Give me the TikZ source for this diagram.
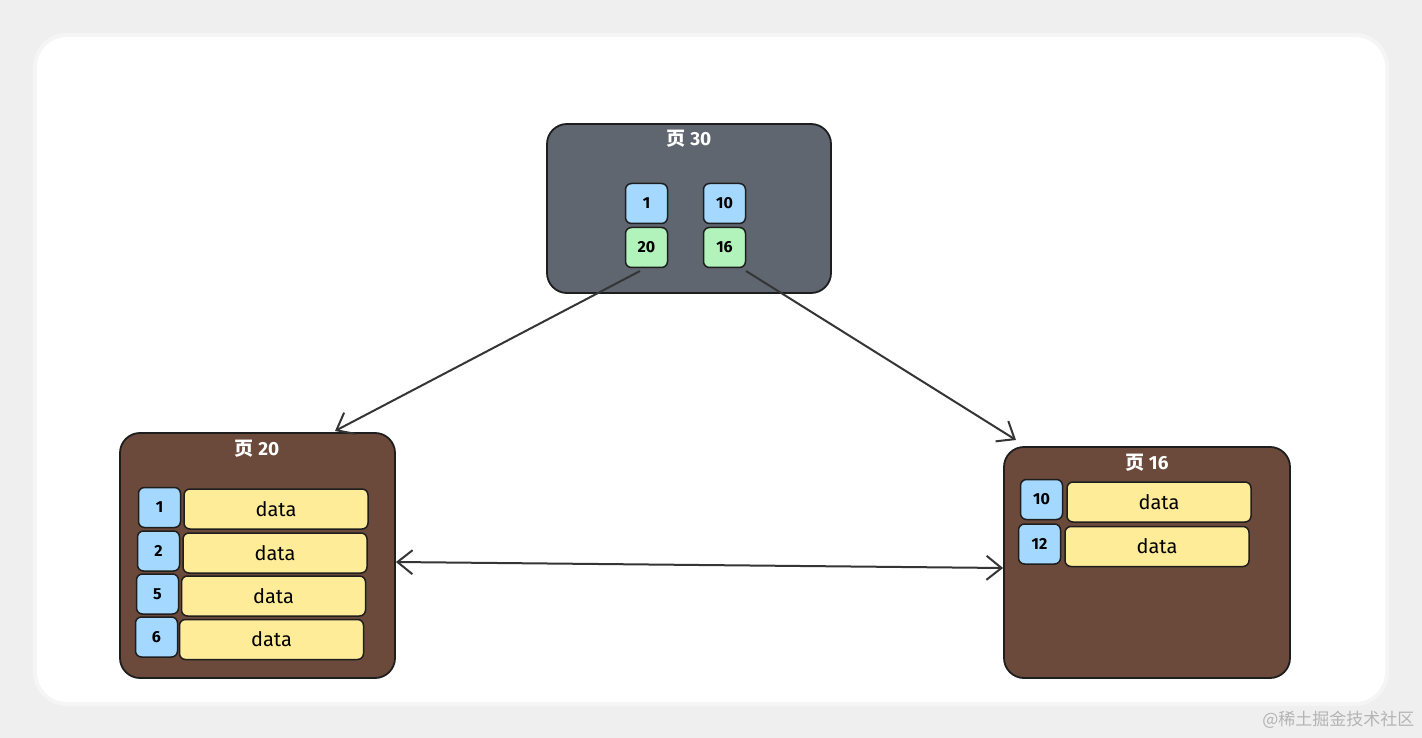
\documentclass[tikz,border=0pt]{standalone}
\usepackage{fontspec}
\setmainfont{Fira Sans}
\newfontfamily\cjk{Noto Sans CJK SC}
\usetikzlibrary{arrows.meta}
\definecolor{pagegray}{HTML}{5F6670}
\definecolor{pagebrown}{HTML}{6B4A3B}
\definecolor{keyblue}{HTML}{A5D8FF}
\definecolor{keygreen}{HTML}{B2F2BB}
\definecolor{datayellow}{HTML}{FFEC99}
\definecolor{ink}{HTML}{1E1E1E}
\definecolor{framebg}{HTML}{EFEFEF}
\definecolor{wm}{HTML}{B4B4B4}
\tikzset{
  px/.style={x=1pt,y=-1pt},
  pagebox/.style={draw=ink,line width=1.8pt,rounded corners=20pt},
  keybox/.style={draw=ink,line width=1.5pt,fill=keyblue,rounded corners=6pt,minimum width=42pt,minimum height=40pt,inner sep=0pt,font=\fontsize{16}{18}\selectfont\bfseries},
  gkeybox/.style={keybox,fill=keygreen},
  databox/.style={draw=ink,line width=1.5pt,fill=datayellow,rounded corners=6pt,minimum width=184pt,minimum height=40pt,inner sep=0pt,font=\fontsize{20}{22}\selectfont},
  titletext/.style={text=white,font=\fontsize{19}{22}\selectfont\bfseries},
  conn/.style={draw=ink!90,line width=2pt},
  barb/.style={Straight Barb[length=15pt,width=24pt,line width=2pt]},
  tip/.style={-{Straight Barb[length=15pt,width=24pt,line width=2pt]}},
}
\begin{document}
\begin{tikzpicture}[px]
\useasboundingbox (0,0) rectangle (1422,738);
% background frame
\fill[framebg] (0,0) rectangle (1422,738);
\fill[white!96!black,rounded corners=34pt] (33,33) rectangle (1389,706);
\fill[white,rounded corners=30pt] (37,37) rectangle (1385,702);
\node[text=wm,anchor=east,font=\cjk\fontsize{17}{19}\selectfont] (wmark) at (1418,720) {@稀土掘金技术社区};

% page 30
\node[pagebox,fill=pagegray,minimum width=284pt,minimum height=169pt] (p30) at (689,208.5) {};
\node[titletext] (t30) at (689,139) {{\cjk 页} 30};
\node[keybox] (k1) at (646.5,203.5) {1};
\node[keybox] (k10) at (724.5,203.5) {10};
\node[gkeybox] (k20) at (646.5,247.5) {20};
\node[gkeybox] (k16) at (724.5,247.5) {16};

% page 20
\node[pagebox,fill=pagebrown,minimum width=275pt,minimum height=245pt] (p20) at (257.5,555.5) {};
\node[titletext] (t20) at (257,449) {{\cjk 页} 20};
\node[keybox] (a1) at (159.5,507.5) {1};
\node[databox] (d1) at (276,509) {data};
\node[keybox] (a2) at (158.5,551) {2};
\node[databox] (d2) at (275,553) {data};
\node[keybox] (a5) at (157.5,594) {5};
\node[databox] (d5) at (273.5,596) {data};
\node[keybox] (a6) at (156.5,637) {6};
\node[databox] (d6) at (271.5,639.5) {data};

% page 16
\node[pagebox,fill=pagebrown,minimum width=286pt,minimum height=231pt] (p16) at (1147,562.5) {};
\node[titletext] (t16) at (1147,463) {{\cjk 页} 16};
\node[keybox] (b10) at (1041.5,499.5) {10};
\node[databox] (e1) at (1159,502) {data};
\node[keybox] (b12) at (1039.5,544) {12};
\node[databox] (e2) at (1157,546.5) {data};

% connectors
\coordinate (s20) at (640,271);
\coordinate (e20) at (335,431);
\coordinate (s16) at (746,271);
\coordinate (e16) at (1016,440);
\draw[conn,tip] (s20) -- (e20);
\draw[conn,tip] (s16) -- (e16);
\draw[conn,{Straight Barb[length=15pt,width=24pt,line width=2pt]}-{Straight Barb[length=15pt,width=24pt,line width=2pt]}] (p20.east |- 0,562) -- (p16.west |- 0,568);
\end{tikzpicture}
\end{document}
